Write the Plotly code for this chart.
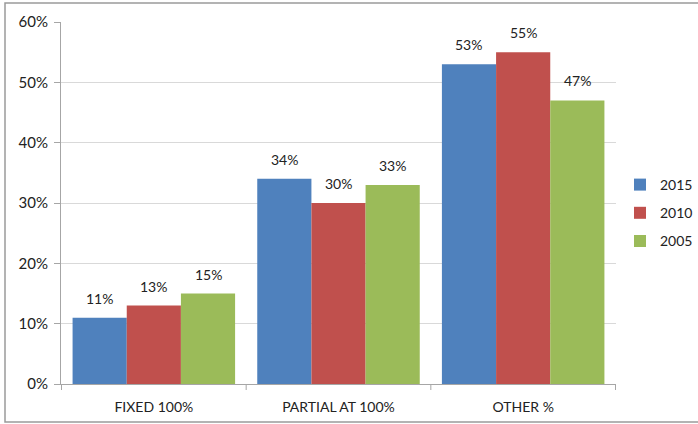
import plotly.graph_objects as go

categories = ["FIXED 100%", "PARTIAL AT 100%", "OTHER %"]
years = ["2015", "2010", "2005"]
values = {
    "2015": [11, 34, 53],
    "2010": [13, 30, 55],
    "2005": [15, 33, 47],
}
colors = {"2015": "#4F81BD", "2010": "#C0504D", "2005": "#9BBB59"}
y_ticks = [0, 10, 20, 30, 40, 50, 60]

FONT = "Lato"
W, H = 698, 424
PW, PH = 555, 362
BARGAP = 0.12
bar_px = PW / len(categories) * (1 - BARGAP) / len(years)

fig = go.Figure()
annotations = []
for j, y in enumerate(years):
    fig.add_trace(go.Bar(
        x=categories, y=values[y], name=y, legendgroup=y,
        marker=dict(color=colors[y], line=dict(width=0)),
    ))
    for c, v in zip(categories, values[y]):
        annotations.append(dict(
            x=c, y=v, xref="x", yref="y", text=f"{v}%", showarrow=False,
            yanchor="bottom", yshift=9, xshift=(j - 1) * bar_px,
            font=dict(family=FONT, size=14, color="#222")))

fig.update_layout(
    width=W, height=H,
    margin=dict(l=61, r=82, t=22, b=40, autoexpand=False),
    barmode="group", bargap=BARGAP, bargroupgap=0,
    paper_bgcolor="white", plot_bgcolor="white",
    font=dict(family=FONT, size=14, color="#222"),
    annotations=annotations,
    legend=dict(x=(620 - 61) / PW, y=0.5 - 10 / PH, yanchor="middle", xanchor="left",
                font=dict(family=FONT, size=14, color="#222"),
                traceorder="grouped", tracegroupgap=7, itemwidth=30),
    yaxis=dict(range=[0, 60], tickvals=y_ticks,
               ticktext=[f"{t}%" for t in y_ticks],
               showgrid=True, gridcolor="#D9D9D9", gridwidth=1,
               showline=True, linecolor="#A6A6A6", linewidth=1,
               ticks="outside", ticklen=6, tickcolor="#A6A6A6",
               ticklabelstandoff=3,
               tickfont=dict(family=FONT, size=15, color="#222"),
               zeroline=False),
    xaxis=dict(showline=True, linecolor="#A6A6A6", linewidth=1,
               ticks="", ticklabelstandoff=10,
               tickfont=dict(family=FONT, size=14, color="#222")),
    shapes=[dict(type="rect", xref="paper", yref="paper",
                 x0=-56 / PW, x1=1.3, y0=-38 / PH, y1=1 + 19 / PH,
                 line=dict(color="#9A9A9A", width=1.5), layer="below")],
)
for i in range(4):
    fig.add_shape(type="line", xref="x", yref="paper",
                  x0=i - 0.5, x1=i - 0.5, y0=0, y1=-6 / PH,
                  line=dict(color="#A6A6A6", width=1))

fig.write_html("out.html")
